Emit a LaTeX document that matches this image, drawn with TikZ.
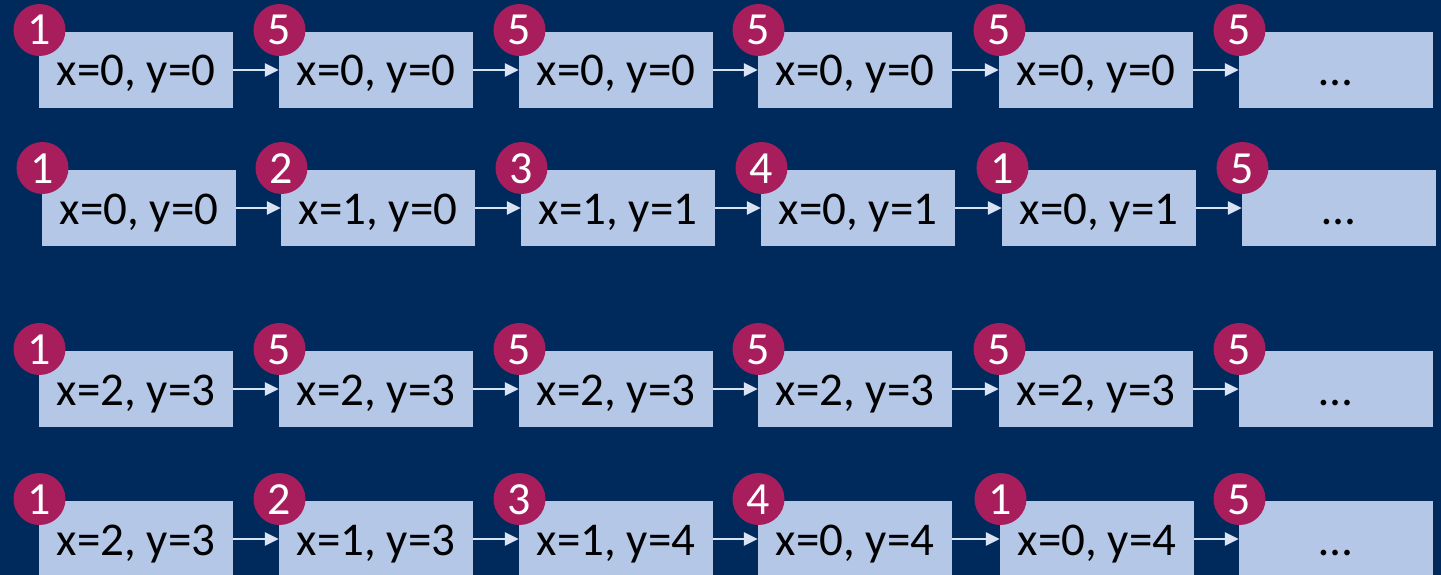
\documentclass[tikz,border=0pt]{standalone}
\usepackage{fontspec}
\setmainfont{Carlito}
\usetikzlibrary{arrows.meta}
\definecolor{bgnavy}{RGB}{0,42,92}
\definecolor{boxblue}{RGB}{180,199,231}
\definecolor{berry}{RGB}{168,30,92}
\definecolor{arrowlight}{RGB}{218,227,243}
\tikzset{
  cellbox/.style={rectangle, fill=boxblue, inner sep=0pt, minimum width=194pt, minimum height=76pt,
    font=\fontsize{47}{52}\selectfont, text=black, text height=32pt, text depth=0pt},
  badge/.style={circle, fill=berry, inner sep=0pt, minimum size=52pt,
    font=\fontsize{46}{52}\selectfont, text=white, text height=30pt, text depth=0pt},
  arr/.style={draw=arrowlight, line width=2.8pt, -{Triangle[length=14pt,width=13pt]}}
}
\newcommand\mycell[5]{%
  \node[cellbox] (#1) at (#2+97,#3+38) {#4};
  \node[badge] (#1n) at (#2+0.5,#3-2) {#5};}
\begin{document}
\begin{tikzpicture}[x=1pt,y=-1pt]
\fill[bgnavy] (0,0) rectangle (1441,575);
\useasboundingbox (0,0) rectangle (1441,575);
% row 1
\mycell{a1}{39}{32}{x=0, y=0}{1}
\mycell{a2}{279}{32}{x=0, y=0}{5}
\mycell{a3}{519}{32}{x=0, y=0}{5}
\mycell{a4}{758}{32}{x=0, y=0}{5}
\mycell{a5}{999}{32}{x=0, y=0}{5}
\mycell{a6}{1239}{32}{…}{5}
% row 2
\mycell{b1}{42}{170}{x=0, y=0}{1}
\mycell{b2}{281}{170}{x=1, y=0}{2}
\mycell{b3}{521}{170}{x=1, y=1}{3}
\mycell{b4}{761}{170}{x=0, y=1}{4}
\mycell{b5}{1002}{170}{x=0, y=1}{1}
\mycell{b6}{1242}{170}{…}{5}
% row 3
\mycell{c1}{39}{351}{x=2, y=3}{1}
\mycell{c2}{279}{351}{x=2, y=3}{5}
\mycell{c3}{519}{351}{x=2, y=3}{5}
\mycell{c4}{758}{351}{x=2, y=3}{5}
\mycell{c5}{999}{351}{x=2, y=3}{5}
\mycell{c6}{1239}{351}{…}{5}
% row 4
\mycell{d1}{39}{501}{x=2, y=3}{1}
\mycell{d2}{279}{501}{x=1, y=3}{2}
\mycell{d3}{519}{501}{x=1, y=4}{3}
\mycell{d4}{758}{501}{x=0, y=4}{4}
\mycell{d5}{1000}{501}{x=0, y=4}{1}
\mycell{d6}{1239}{501}{…}{5}
% arrows
\foreach \r in {a,b,c,d}{
  \foreach \i [evaluate=\i as \j using int(\i+1)] in {1,...,5}{
    \draw[arr] (\r\i.east) -- (\r\j.west);
  }
}
\end{tikzpicture}
\end{document}
